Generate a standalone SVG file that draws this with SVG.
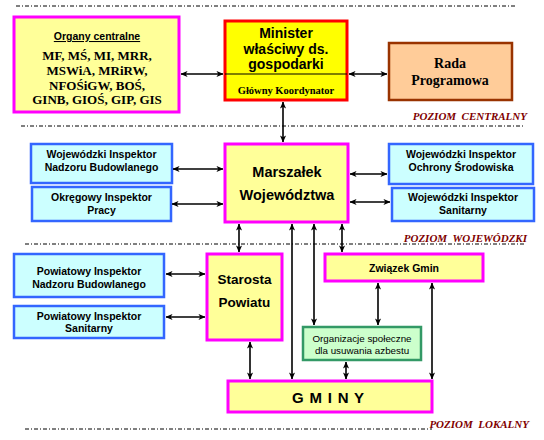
<svg xmlns="http://www.w3.org/2000/svg" width="544" height="440" viewBox="0 0 544 440">
<defs>
<marker id="ah" viewBox="0 0 8 8" refX="7.5" refY="4" markerWidth="7" markerHeight="7" markerUnits="userSpaceOnUse" orient="auto-start-reverse">
<path d="M0,0.5 L8,4 L0,7.5 L2.2,4 Z" fill="#000"/>
</marker>
<style>
.sep{stroke:#000;stroke-width:1;stroke-dasharray:4,2,1,2;fill:none}
.lvl{font-family:"Liberation Serif",serif;font-style:italic;font-weight:bold;font-size:11px;fill:#800000}
.mag{fill:#FFFF99;stroke:#FF00FF;stroke-width:3}
.blue{fill:#CCFFFF;stroke:#3366FF;stroke-width:2.5}
.sans{font-family:"Liberation Sans",Arial,sans-serif;font-weight:bold;fill:#000;text-anchor:middle}
.serif{font-family:"Liberation Serif","Times New Roman",serif;font-weight:bold;fill:#000;text-anchor:middle}
.bt{font-size:10.5px}
.conn line{stroke:#000;stroke-width:1.6;marker-start:url(#ah);marker-end:url(#ah)}
</style>
</defs>
<rect width="544" height="440" fill="#fff"/>
<g id="separators">
<line class="sep" x1="16" y1="6" x2="515" y2="6"/>
<line class="sep" x1="21" y1="126" x2="523" y2="126"/>
<line class="sep" x1="25" y1="244" x2="524" y2="244"/>
<line class="sep" x1="25" y1="429" x2="432" y2="429"/>
<text class="lvl" x="527" y="120" text-anchor="end" xml:space="preserve">POZIOM  CENTRALNY</text>
<text class="lvl" x="527" y="242" text-anchor="end" xml:space="preserve">POZIOM  WOJEWÓDZKI</text>
<text class="lvl" x="529" y="428" text-anchor="end" xml:space="preserve">POZIOM  LOKALNY</text>
</g>
<g id="organy">
<rect class="mag" x="14" y="17" width="165" height="95"/>
<text class="sans" x="97" y="40" font-size="10.5" text-decoration="underline">Organy centralne</text>
<text class="serif" x="97" y="60" font-size="13">MF, MŚ, MI, MRR,</text>
<text class="serif" x="97" y="75" font-size="13">MSWiA, MRiRW,</text>
<text class="serif" x="97" y="90" font-size="13">NFOŚiGW, BOŚ,</text>
<text class="serif" x="97" y="104" font-size="13">GINB, GIOŚ, GIP, GIS</text>
</g>
<g id="minister">
<rect x="225" y="21" width="122" height="79" fill="#FFFF00" stroke="#FF0000" stroke-width="3"/>
<line x1="225" y1="74" x2="347" y2="74" stroke="#000" stroke-width="1.2"/>
<text class="sans" x="286" y="38" font-size="14">Minister</text>
<text class="sans" x="286" y="54" font-size="14">właściwy ds.</text>
<text class="sans" x="286" y="69" font-size="14">gospodarki</text>
<text class="serif" x="286" y="94" font-size="10.5">Główny Koordynator</text>
</g>
<g id="rada">
<rect x="389" y="43" width="123" height="57" fill="#FFCC99" stroke="#993300" stroke-width="2.5"/>
<text class="serif" x="450" y="68" font-size="14">Rada</text>
<text class="serif" x="450" y="85" font-size="14">Programowa</text>
</g>
<g id="marszalek">
<rect class="mag" x="225" y="144" width="123" height="78"/>
<text class="sans" x="287" y="177" font-size="14.5">Marszałek</text>
<text class="sans" x="287" y="200" font-size="14.5">Województwa</text>
</g>
<g id="winb">
<rect class="blue" x="31" y="144" width="141" height="39"/>
<text class="sans bt" x="101.5" y="158">Wojewódzki Inspektor</text>
<text class="sans bt" x="101.5" y="171">Nadzoru Budowlanego</text>
</g>
<g id="oip">
<rect class="blue" x="32" y="187" width="139" height="34"/>
<text class="sans bt" x="101.5" y="201">Okręgowy Inspektor</text>
<text class="sans bt" x="101.5" y="214">Pracy</text>
</g>
<g id="wios">
<rect class="blue" x="389" y="144" width="144" height="40"/>
<text class="sans bt" x="461" y="158">Wojewódzki Inspektor</text>
<text class="sans bt" x="461" y="171">Ochrony Środowiska</text>
</g>
<g id="wis">
<rect class="blue" x="392" y="188" width="142" height="33"/>
<text class="sans bt" x="463" y="201">Wojewódzki Inspektor</text>
<text class="sans bt" x="463" y="214">Sanitarny</text>
</g>
<g id="starosta">
<rect class="mag" x="207" y="254" width="75" height="86"/>
<text class="sans" x="244.5" y="284" font-size="13.5">Starosta</text>
<text class="sans" x="244.5" y="307" font-size="13.5">Powiatu</text>
</g>
<g id="pinb">
<rect class="blue" x="14" y="254" width="150" height="43"/>
<text class="sans bt" x="89" y="275">Powiatowy Inspektor</text>
<text class="sans bt" x="89" y="288">Nadzoru Budowlanego</text>
</g>
<g id="pis">
<rect class="blue" x="14" y="306" width="150" height="32"/>
<text class="sans bt" x="89" y="320">Powiatowy Inspektor</text>
<text class="sans bt" x="89" y="332">Sanitarny</text>
</g>
<g id="zwiazek">
<rect class="mag" x="325" y="254" width="158" height="27"/>
<text class="sans" x="404" y="272" font-size="10.5">Związek Gmin</text>
</g>
<g id="organizacje">
<rect x="303" y="327" width="118" height="33" fill="#CCFFCC" stroke="#339966" stroke-width="2.5"/>
<text x="362" y="342" font-family="Liberation Sans, Arial, sans-serif" font-size="9.8" text-anchor="middle">Organizacje społeczne</text>
<text x="362" y="354" font-family="Liberation Sans, Arial, sans-serif" font-size="9.8" text-anchor="middle">dla usuwania azbestu</text>
</g>
<g id="gminy">
<rect class="mag" x="228" y="381" width="204" height="31"/>
<text x="292" y="403" font-family="Liberation Sans, Arial, sans-serif" font-weight="bold" font-size="15" letter-spacing="0.8">G M I N Y</text>
</g>
<g id="connectors" class="conn">
<line x1="181" y1="74" x2="223" y2="74"/>
<line x1="349" y1="74" x2="387" y2="74"/>
<line x1="283" y1="102" x2="283" y2="142"/>
<line x1="173" y1="169" x2="223" y2="169"/>
<line x1="172" y1="204" x2="223" y2="204"/>
<line x1="350" y1="174" x2="387" y2="174"/>
<line x1="350" y1="202" x2="390" y2="202"/>
<line x1="239" y1="224" x2="239" y2="252"/>
<line x1="292" y1="224" x2="292" y2="379"/>
<line x1="314" y1="224" x2="314" y2="325"/>
<line x1="342" y1="224" x2="342" y2="252"/>
<line x1="166" y1="274" x2="205" y2="274"/>
<line x1="166" y1="317" x2="205" y2="317"/>
<line x1="250" y1="342" x2="250" y2="379"/>
<line x1="378" y1="283" x2="378" y2="325"/>
<line x1="432" y1="283" x2="432" y2="379"/>
<line x1="346" y1="362" x2="346" y2="379"/>
</g>
</svg>
